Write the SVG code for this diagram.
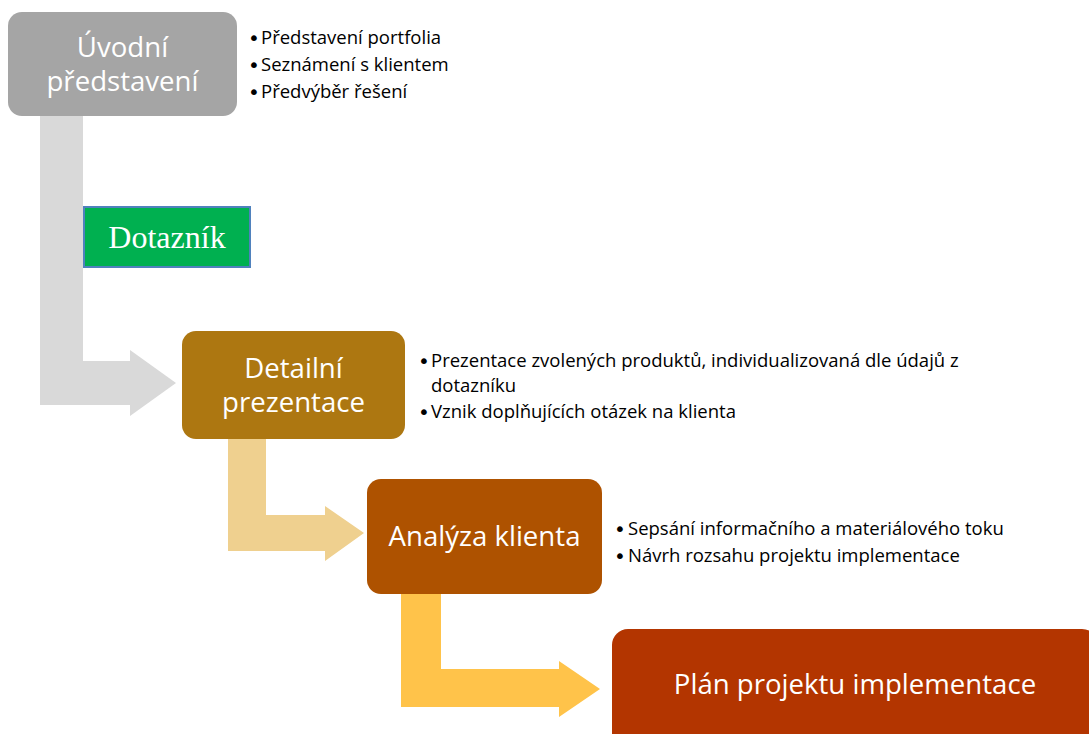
<svg xmlns="http://www.w3.org/2000/svg" width="1089" height="734" viewBox="0 0 1089 734">
  <style>
    .box-label { font-family: "Open Sans", "Noto Sans", sans-serif; font-size: 27.6px; fill: #ffffff; text-anchor: middle; }
    .bullet { font-family: "Open Sans", "Noto Sans", sans-serif; font-size: 18.5px; fill: #000000; }
    .dot { font-family: "DejaVu Sans", sans-serif; font-size: 20px; fill: #000000; }
    .serif-label { font-family: "Liberation Serif", "Times New Roman", serif; font-size: 32px; fill: #ffffff; text-anchor: middle; }
  </style>
  <rect width="1089" height="734" fill="#ffffff"/>

  <!-- bent block arrows between the steps -->
  <g id="connectors">
    <polygon points="40,110 83,110 83,361 130,361 130,350 176,383 130,416 130,405 40,405" fill="#d9d9d9"/>
    <polygon points="228,435 266,435 266,515 325,515 325,506 364,533 325,561 325,551 228,551" fill="#efd08f"/>
    <polygon points="401,590 441,590 441,669 559,669 559,661 600,689 559,717 559,707 401,707" fill="#ffc34a"/>
  </g>

  <g id="uvodni-predstaveni">
    <rect x="8" y="12" width="229" height="104" rx="14" fill="#a5a5a5"/>
    <text class="box-label" x="122.5" y="57">Úvodní</text>
    <text class="box-label" x="122.5" y="91">představení</text>
  </g>
  <g id="uvodni-body">
    <text class="dot" x="248" y="45">•</text><text class="bullet" x="261" y="44">Představení portfolia</text>
    <text class="dot" x="248" y="72">•</text><text class="bullet" x="261" y="71">Seznámení s klientem</text>
    <text class="dot" x="248" y="99">•</text><text class="bullet" x="261" y="98">Předvýběr řešení</text>
  </g>

  <g id="dotaznik">
    <rect x="84" y="207" width="166" height="60" fill="#00b050" stroke="#4f81bd" stroke-width="2"/>
    <text class="serif-label" x="167" y="248">Dotazník</text>
  </g>

  <g id="detailni-prezentace">
    <rect x="182" y="331" width="223" height="108" rx="14" fill="#ad7711"/>
    <text class="box-label" x="293.5" y="378">Detailní</text>
    <text class="box-label" x="293.5" y="412">prezentace</text>
  </g>
  <g id="detailni-body">
    <text class="dot" x="418" y="368">•</text><text class="bullet" x="431" y="367">Prezentace zvolených produktů, individualizovaná dle údajů z</text>
    <text class="bullet" x="431" y="392">dotazníku</text>
    <text class="dot" x="418" y="419">•</text><text class="bullet" x="431" y="418">Vznik doplňujících otázek na klienta</text>
  </g>

  <g id="analyza-klienta">
    <rect x="367" y="479" width="235" height="115" rx="14" fill="#ae5200"/>
    <text class="box-label" x="484.5" y="546">Analýza klienta</text>
  </g>
  <g id="analyza-body">
    <text class="dot" x="614" y="536">•</text><text class="bullet" x="628" y="535">Sepsání informačního a materiálového toku</text>
    <text class="dot" x="614" y="563">•</text><text class="bullet" x="628" y="562">Návrh rozsahu projektu implementace</text>
  </g>

  <g id="plan-projektu">
    <rect x="612" y="629" width="486" height="140" rx="16" fill="#b33500"/>
    <text class="box-label" x="855" y="694">Plán projektu implementace</text>
  </g>
</svg>
